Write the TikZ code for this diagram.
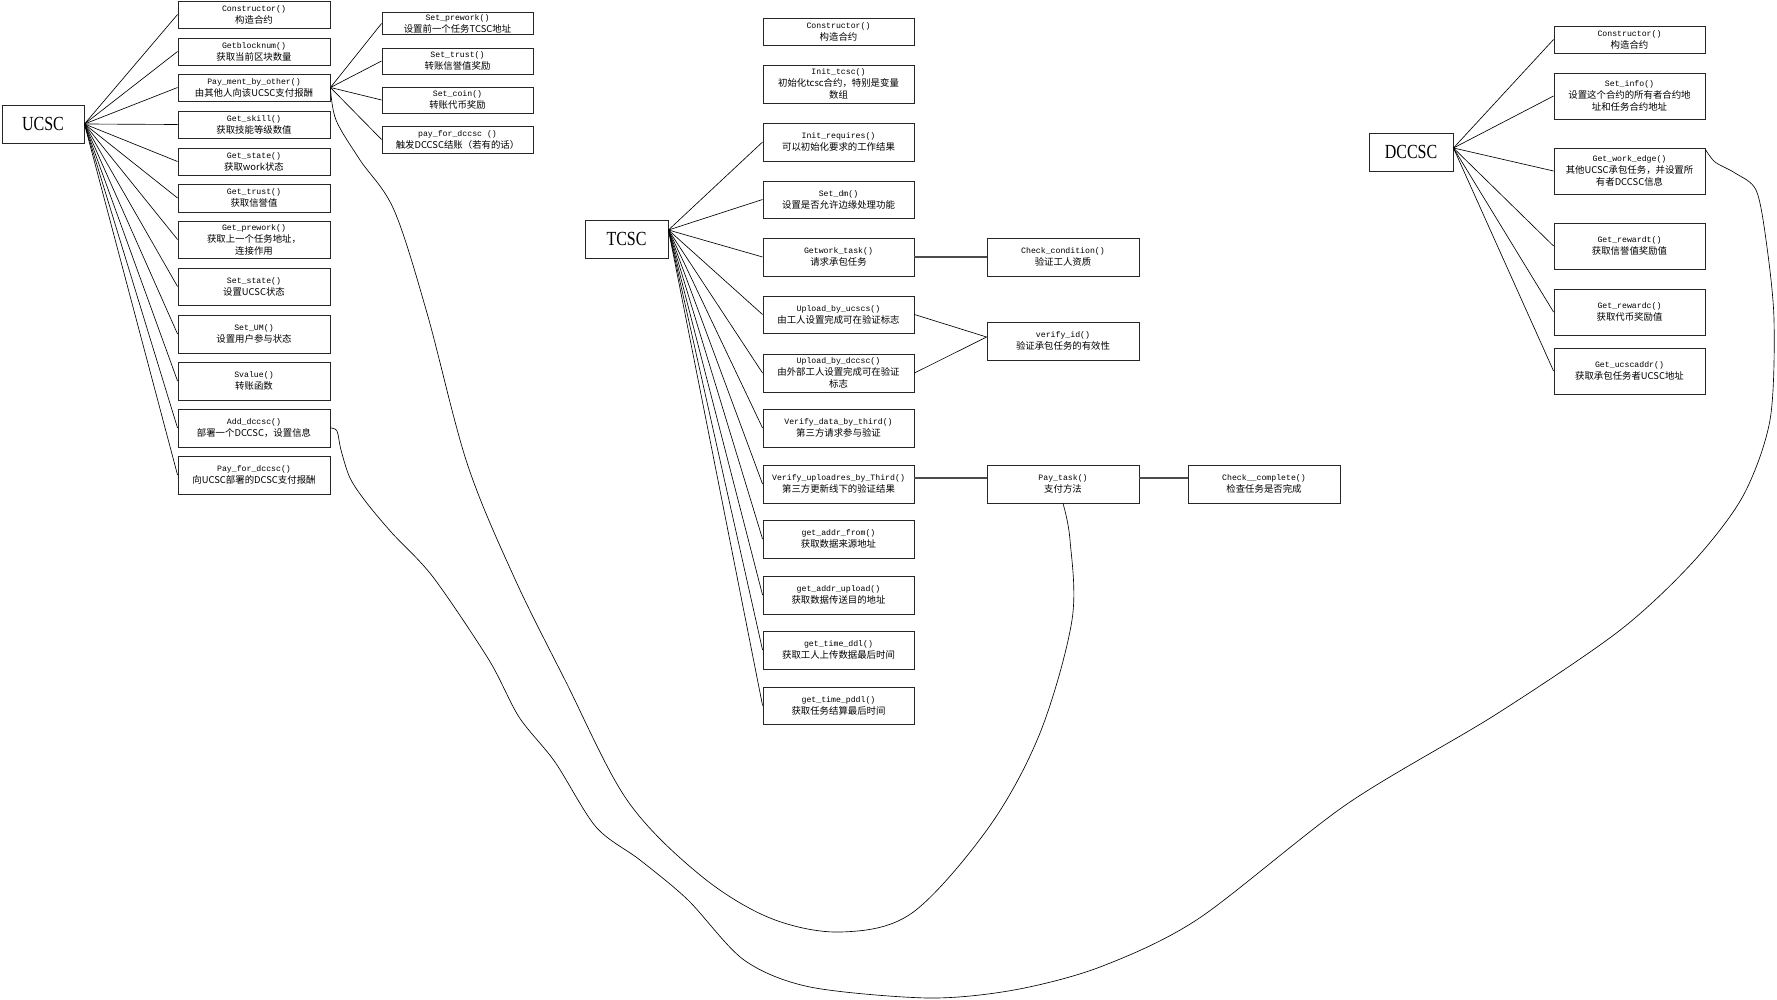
\documentclass[tikz,border=0pt]{standalone}
\usepackage{fontspec}
\setmainfont{Liberation Serif}
\newfontfamily\cjkf{Noto Sans CJK SC}
\newfontfamily\monof{Liberation Mono}
\newfontfamily\titlef[FakeStretch=0.8]{Liberation Serif}
\newcommand\fnl[1]{{\monof\fontsize{8.2}{12}\selectfont #1}}
\begin{document}
\begin{tikzpicture}[x=1pt,y=-1pt,
 fbox/.style={draw=black!85, line width=0.9pt, inner sep=0pt, align=center,
   font=\cjkf\fontsize{9.4}{12}\selectfont, fill=white},
 colA/.style={fbox, minimum width=152pt},
 main/.style={draw=black!85, line width=0.9pt, inner sep=0pt, minimum height=38pt,
   font=\titlef\fontsize{20}{24}\selectfont},
 conn/.style={line width=0.65pt},
 hconn/.style={line width=1.2pt, draw=black!70},
 curvy/.style={line width=0.65pt}]
\useasboundingbox (0,0) rectangle (1777,1000);

% main nodes
\node[main, minimum width=82pt] (ucsc) at (43,124) {UCSC};
\node[main, minimum width=83pt] (tcsc) at (626.5,239) {TCSC};
\node[main, minimum width=84pt] (dccsc) at (1411,152) {DCCSC};

% UCSC children
\node[colA, minimum height=27pt] (u1) at (254,14.5) {\fnl{Constructor()}\\构造合约};
\node[colA, minimum height=27pt] (u2) at (254,51.5) {\fnl{Getblocknum()}\\获取当前区块数量};
\node[colA, minimum height=27pt] (u3) at (254,87.5) {\fnl{Pay\_ment\_by\_other()}\\由其他人向该UCSC支付报酬};
\node[colA, minimum height=27pt] (u4) at (254,124.5) {\fnl{Get\_skill()}\\获取技能等级数值};
\node[colA, minimum height=27pt] (u5) at (254,161.5) {\fnl{Get\_state()}\\获取work状态};
\node[colA, minimum height=28pt] (u6) at (254,198) {\fnl{Get\_trust()}\\获取信誉值};
\node[colA, minimum height=37pt] (u7) at (254,239.5) {\fnl{Get\_prework()}\\获取上一个任务地址，\\连接作用};
\node[colA, minimum height=37pt] (u8) at (254,286.5) {\fnl{Set\_state()}\\设置UCSC状态};
\node[colA, minimum height=38pt] (u9) at (254,334) {\fnl{Set\_UM()}\\设置用户参与状态};
\node[colA, minimum height=38pt] (u10) at (254,381) {\fnl{Svalue()}\\转账函数};
\node[colA, minimum height=38pt] (u11) at (254,428) {\fnl{Add\_dccsc()}\\部署一个DCCSC，设置信息};
\node[colA, minimum height=38pt] (u12) at (254,475) {\fnl{Pay\_for\_dccsc()}\\向UCSC部署的DCSC支付报酬};

% Pay_ment sub-children
\node[fbox, minimum width=151pt, minimum height=22pt] (s1) at (457.5,23.5) {\fnl{Set\_prework()}\\设置前一个任务TCSC地址};
\node[fbox, minimum width=151pt, minimum height=26pt] (s2) at (457.5,61) {\fnl{Set\_trust()}\\转账信誉值奖励};
\node[fbox, minimum width=151pt, minimum height=26pt] (s3) at (457.5,100) {\fnl{Set\_coin()}\\转账代币奖励};
\node[fbox, minimum width=151pt, minimum height=27pt] (s4) at (457.5,139.5) {\fnl{pay\_for\_dccsc ()}\\触发DCCSC结账（若有的话）};

% TCSC children
\node[fbox, minimum width=151pt, minimum height=27pt] (t1) at (838.5,31.5) {\fnl{Constructor()}\\构造合约};
\node[fbox, minimum width=151pt, minimum height=38pt] (t2) at (838.5,84) {\fnl{Init\_tcsc()}\\初始化tcsc合约，特别是变量\\数组};
\node[fbox, minimum width=151pt, minimum height=38pt] (t3) at (838.5,142) {\fnl{Init\_requires()}\\可以初始化要求的工作结果};
\node[fbox, minimum width=151pt, minimum height=37pt] (t4) at (838.5,199.5) {\fnl{Set\_dm()}\\设置是否允许边缘处理功能};
\node[fbox, minimum width=151pt, minimum height=38pt] (t5) at (838.5,257) {\fnl{Getwork\_task()}\\请求承包任务};
\node[fbox, minimum width=151pt, minimum height=37pt] (t6) at (838.5,314.5) {\fnl{Upload\_by\_ucscs()}\\由工人设置完成可在验证标志};
\node[fbox, minimum width=151pt, minimum height=38pt] (t7) at (838.5,373) {\fnl{Upload\_by\_dccsc()}\\由外部工人设置完成可在验证\\标志};
\node[fbox, minimum width=151pt, minimum height=38pt] (t8) at (838.5,428) {\fnl{Verify\_data\_by\_third()}\\第三方请求参与验证};
\node[fbox, minimum width=151pt, minimum height=38pt] (t9) at (838.5,484) {\fnl{Verify\_uploadres\_by\_Third()}\\第三方更新线下的验证结果};
\node[fbox, minimum width=151pt, minimum height=38pt] (t10) at (838.5,539) {\fnl{get\_addr\_from()}\\获取数据来源地址};
\node[fbox, minimum width=151pt, minimum height=38pt] (t11) at (838.5,595) {\fnl{get\_addr\_upload()}\\获取数据传送目的地址};
\node[fbox, minimum width=151pt, minimum height=38pt] (t12) at (838.5,650) {\fnl{get\_time\_ddl()}\\获取工人上传数据最后时间};
\node[fbox, minimum width=151pt, minimum height=37pt] (t13) at (838.5,705.5) {\fnl{get\_time\_pddl()}\\获取任务结算最后时间};

% right column of TCSC
\node[colA, minimum height=38pt] (cc) at (1063,257) {\fnl{Check\_condition()}\\验证工人资质};
\node[colA, minimum height=38pt] (vid) at (1063,341) {\fnl{verify\_id()}\\验证承包任务的有效性};
\node[colA, minimum height=38pt] (pay) at (1063,484) {\fnl{Pay\_task()}\\支付方法};
\node[colA, minimum height=38pt] (chk) at (1264,484) {\fnl{Check\_\_complete()}\\检查任务是否完成};

% DCCSC children
\node[fbox, minimum width=151pt, minimum height=27pt] (d1) at (1629.5,39.5) {\fnl{Constructor()}\\构造合约};
\node[fbox, minimum width=151pt, minimum height=46pt] (d2) at (1629.5,96) {\fnl{Set\_info()}\\设置这个合约的所有者合约地\\址和任务合约地址};
\node[fbox, minimum width=151pt, minimum height=46pt] (d3) at (1629.5,171) {\fnl{Get\_work\_edge()}\\其他UCSC承包任务，并设置所\\有者DCCSC信息};
\node[fbox, minimum width=151pt, minimum height=46pt] (d4) at (1629.5,246) {\fnl{Get\_rewardt()}\\获取信誉值奖励值};
\node[fbox, minimum width=151pt, minimum height=46pt] (d5) at (1629.5,312) {\fnl{Get\_rewardc()}\\获取代币奖励值};
\node[fbox, minimum width=151pt, minimum height=46pt] (d6) at (1629.5,371) {\fnl{Get\_ucscaddr()}\\获取承包任务者UCSC地址};

% connectors UCSC
\foreach \n in {u1,u2,u3,u4,u5,u6,u7,u8,u9,u10,u11,u12}
  \draw[conn] (ucsc.east) -- (\n.west);
\foreach \n in {s1,s2,s3,s4}
  \draw[conn] (u3.east) -- (\n.west);

% connectors TCSC
\foreach \n in {t3,t4,t5,t6,t7,t8,t9,t10,t11,t12,t13}
  \draw[conn] ([yshift=9pt]tcsc.east) -- (\n.west);
\draw[hconn] (t5.east) -- (cc.west);
\draw[conn] (t6.east) -- ([yshift=4pt]vid.west);
\draw[conn] (t7.east) -- ([yshift=4pt]vid.west);
\draw[hconn] ([yshift=6pt]t9.east) -- ([yshift=6pt]pay.west);
\draw[hconn] ([yshift=6pt]pay.east) -- ([yshift=6pt]chk.west);

% connectors DCCSC
\foreach \n in {d1,d2,d3,d4,d5,d6}
  \draw[conn] ([yshift=4pt]dccsc.east) -- (\n.west);

% long curves
\draw[curvy] plot[smooth, tension=0.55] coordinates {(u3.east) (336,120) (360,160) (394,210) (427,313) (467,463) (514,577) (565,680) (627,800) (700,875) (770,918) (841,932) (912,913) (989,827) (1040,733) (1072,620) (1070,540) (pay.south)};
\draw[curvy] plot[smooth, tension=0.5] coordinates {(u11.east) (337,431) (341,450) (350,478) (366,502) (392,533) (433,577) (489,660) (519,717) (555,762) (596,827) (640,860) (688,900) (744,960) (810,987) (928,998) (1014,990) (1100,967) (1198,919) (1347,804) (1495,715) (1619,631) (1693,562) (1743,496) (1770,420) (1774,320) (1766,240) (1756,190) (1735,173) (1715,162) ([yshift=-2pt]d3.north east)};
\end{tikzpicture}
\end{document}
